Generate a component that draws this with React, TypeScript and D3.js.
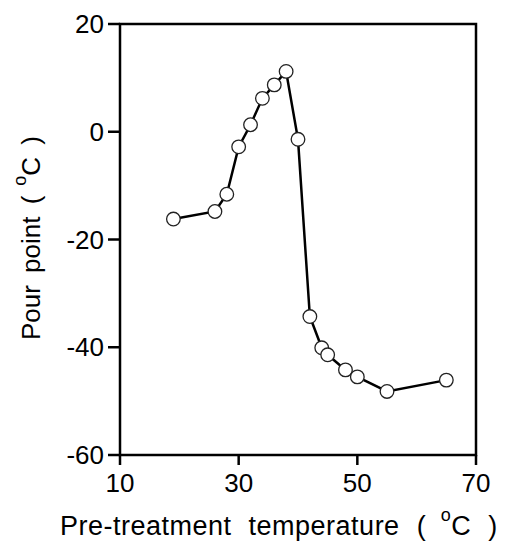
import React from "react";
import * as d3 from "d3";

const temps = [19, 26, 28, 30, 32, 34, 36, 38, 40, 42, 44, 45, 48, 50, 55, 65];
const pourPoints = [-16.2, -14.8, -11.6, -2.8, 1.3, 6.2, 8.7, 11.2, -1.4, -34.3, -40.1, -41.4, -44.2, -45.5, -48.2, -46.1];
const xTicks = [10, 30, 50, 70];
const yTicks = [-60, -40, -20, 0, 20];

const W = 508, H = 547;
const left = 120, right = 476, top = 24, bottom = 455;
const font = "'Liberation Sans', Arial, sans-serif";

export default function App() {
  const x = d3.scaleLinear().domain([10, 70]).range([left, right]);
  const y = d3.scaleLinear().domain([-60, 20]).range([bottom, top]);
  const pts = temps.map((t, i) => [t, pourPoints[i]] as [number, number]);
  const line = d3.line<[number, number]>().x(d => x(d[0])).y(d => y(d[1]));
  return (
    <svg width={W} height={H} style={{ position: "absolute", left: 0, top: 0, background: "#fff" }}>
      <rect x={0} y={0} width={W} height={H} fill="#fff" />
      <rect x={left} y={top} width={right - left} height={bottom - top} fill="none" stroke="#000" strokeWidth={2.5} />
      {xTicks.map(t => (
        <g key={"x" + t}>
          <line x1={x(t)} x2={x(t)} y1={bottom} y2={bottom + 10} stroke="#000" strokeWidth={2.5} />
          <text x={x(t)} y={492} textAnchor="middle" fontFamily={font} fontSize={26}>{t}</text>
        </g>
      ))}
      {yTicks.map(t => (
        <g key={"y" + t}>
          <line x1={left - 12} x2={left} y1={y(t)} y2={y(t)} stroke="#000" strokeWidth={2.5} />
          <text x={104} y={y(t) + 9} textAnchor="end" fontFamily={font} fontSize={26}>{t}</text>
        </g>
      ))}
      <path d={line(pts) || ""} fill="none" stroke="#000" strokeWidth={2.5} />
      {pts.map((p, i) => (
        <circle key={i} cx={x(p[0])} cy={y(p[1])} r={6.8} fill="#fff" stroke="#222" strokeWidth={1.3} />
      ))}
      <text x={60} y={535} fontFamily={font} fontSize={27} wordSpacing={9} letterSpacing={0.5}>
        Pre-treatment temperature (
        <tspan fontSize={18} dy={-14}> o</tspan>
        <tspan dy={14}>C )</tspan>
      </text>
      <text transform={`translate(40, 238) rotate(-90)`} textAnchor="middle" fontFamily={font} fontSize={26} wordSpacing={5}>
        Pour point (
        <tspan fontSize={18} dy={-14}> o</tspan>
        <tspan dy={14}>C )</tspan>
      </text>
    </svg>
  );
}
